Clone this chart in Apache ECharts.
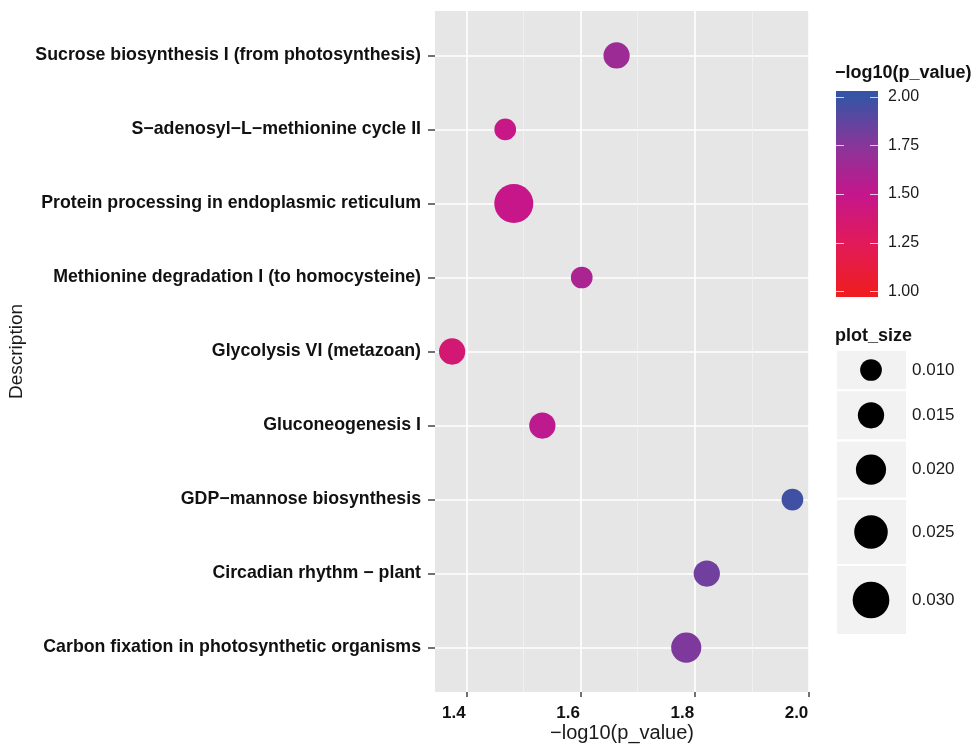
<!DOCTYPE html>
<html>
<head>
<meta charset="utf-8">
<script src="https://cdn.jsdelivr.net/npm/echarts@6/dist/echarts.min.js"></script>
<style>
  html, body { margin: 0; padding: 0; background: #fff; }
  #chart { width: 972px; height: 744px; }
</style>
</head>
<body>
<div id="chart"></div>
<script>
// ---- data ----
const categories = [
  'Sucrose biosynthesis I (from photosynthesis)',
  'S\u2212adenosyl\u2212L\u2212methionine cycle II',
  'Protein processing in endoplasmic reticulum',
  'Methionine degradation I (to homocysteine)',
  'Glycolysis VI (metazoan)',
  'Gluconeogenesis I',
  'GDP\u2212mannose biosynthesis',
  'Circadian rhythm \u2212 plant',
  'Carbon fixation in photosynthetic organisms'
];
const negLog10P = [1.663, 1.468, 1.483, 1.602, 1.375, 1.533, 1.971, 1.821, 1.785];
const plotSize  = [0.015, 0.010, 0.034, 0.010, 0.015, 0.015, 0.010, 0.015, 0.020];
const xTicks = [1.4, 1.6, 1.8, 2.0];
const xMinorTicks = [1.5, 1.7, 1.9];
const colorTicks = [1.00, 1.25, 1.50, 1.75, 2.00];
const sizeTicks = [0.010, 0.015, 0.020, 0.025, 0.030];
const palette = ['#EE1D23', '#E11A5A', '#C4168C', '#88369A', '#3654A5'];

// ---- helpers ----
function sizeOf(v) { return Math.sqrt(471 + (v - 0.010) * 43800); }
const FONT = '"Liberation Sans", Arial, Helvetica, sans-serif';

const seriesData = negLog10P.map((x, i) => [x, i + 1, plotSize[i]]);
const yTickVals = categories.map((c, i) => i + 1);

// colour bar geometry
const cbX = 836, cbW = 42, cbY1 = 291.3, cbY2 = 96.7; // 1.00 -> cbY1, 2.00 -> cbY2
const cbPad = 5.8;
function cbY(v) { return cbY1 - (v - 1) * (cbY1 - cbY2); }
const cbTop = cbY2 - cbPad, cbBot = cbY1 + cbPad, cbH = cbBot - cbTop;
const gradStops = palette.map((c, i) => {
  const v = 1 + i * 0.25;
  return { offset: (cbY(v) - cbTop) / cbH, color: c };
});
gradStops.unshift({ offset: 0, color: palette[palette.length - 1] });
gradStops.push({ offset: 1, color: palette[0] });
gradStops.sort((a, b) => a.offset - b.offset);

const graphics = [];
graphics.push({ type: 'text', left: 835, top: 64, style: { text: '\u2212log10(p_value)', font: 'bold 18px ' + FONT, fill: '#111' } });
graphics.push({ type: 'rect', shape: { x: cbX, y: cbTop, width: cbW, height: cbH },
  style: { fill: { type: 'linear', x: 0, y: 0, x2: 0, y2: 1, colorStops: gradStops } } });
colorTicks.forEach(v => {
  const y = Math.round(cbY(v)) + 0.5;
  graphics.push({ type: 'line', shape: { x1: cbX, y1: y, x2: cbX + 8, y2: y }, style: { stroke: 'rgba(255,255,255,0.75)', lineWidth: 1 } });
  graphics.push({ type: 'line', shape: { x1: cbX + cbW - 8, y1: y, x2: cbX + cbW, y2: y }, style: { stroke: 'rgba(255,255,255,0.75)', lineWidth: 1 } });
  graphics.push({ type: 'text', x: 888, y: cbY(v), style: { text: v.toFixed(2), font: '16px ' + FONT, fill: '#1a1a1a', verticalAlign: 'middle' } });
});

graphics.push({ type: 'text', left: 835, top: 327, style: { text: 'plot_size', font: 'bold 18px ' + FONT, fill: '#111' } });
const boxes = [[350.7, 389.3], [391.3, 439.3], [441.7, 497.5], [500, 564], [566, 634]];
sizeTicks.forEach((v, i) => {
  const b = boxes[i];
  const cy = (b[0] + b[1]) / 2;
  graphics.push({ type: 'rect', shape: { x: 837, y: b[0], width: 69, height: b[1] - b[0] }, style: { fill: '#F2F2F2' } });
  graphics.push({ type: 'circle', shape: { cx: 871, cy: cy, r: sizeOf(v) / 2 }, style: { fill: '#000' } });
  graphics.push({ type: 'text', x: 912, y: cy, style: { text: v.toFixed(3), font: '17px ' + FONT, fill: '#1a1a1a', verticalAlign: 'middle' } });
});

const chart = echarts.init(document.getElementById('chart'), null, { renderer: 'canvas' });
chart.setOption({
  animation: false,
  backgroundColor: '#fff',
  grid: { left: 435, right: 163, top: 11, bottom: 52, show: true, backgroundColor: '#E6E6E6', borderWidth: 0, containLabel: false, outerBoundsMode: 'none' },
  xAxis: [{
    type: 'value', min: 1.345, max: 2.0,
    name: '\u2212log10(p_value)', nameLocation: 'middle', nameGap: 31, nameMoveOverlap: false,
    nameTextStyle: { fontFamily: FONT, fontSize: 20, color: '#1a1a1a' },
    axisLine: { show: false },
    axisTick: { show: true, customValues: xTicks, length: 5, lineStyle: { color: '#444', width: 1.5 } },
    axisLabel: { customValues: xTicks, formatter: v => v.toFixed(1), fontFamily: FONT, fontWeight: 'bold', fontSize: 17, color: '#111', margin: 13, padding: [0, 25, 0, 0] },
    splitLine: { show: true, lineStyle: { color: '#FFFFFF', width: 1.6 } }
  }, {
    type: 'value', min: 1.345, max: 2.0, position: 'top',
    axisLine: { show: false },
    axisTick: { show: false, customValues: xMinorTicks },
    axisLabel: { show: false, customValues: xMinorTicks },
    splitLine: { show: true, lineStyle: { color: '#F2F2F2', width: 0.8 } }
  }],
  yAxis: {
    type: 'value', min: 0.4, max: 9.6, inverse: true,
    name: 'Description', nameLocation: 'middle', nameGap: 409, nameRotate: 90, nameMoveOverlap: false,
    nameTextStyle: { fontFamily: FONT, fontSize: 19, color: '#1a1a1a' },
    axisLine: { show: false },
    axisTick: { show: true, customValues: yTickVals, length: 7, lineStyle: { color: '#444', width: 1.5 } },
    axisLabel: { customValues: yTickVals, formatter: v => categories[Math.round(v) - 1] || '', fontFamily: FONT, fontWeight: 'bold', fontSize: 17.75, color: '#111', margin: 14 },
    splitLine: { show: true, lineStyle: { color: '#FFFFFF', width: 1.6 } }
  },
  visualMap: {
    show: false, type: 'continuous', min: 1, max: 2, dimension: 0, seriesIndex: 0,
    inRange: { color: palette }
  },
  series: [{
    type: 'scatter',
    xAxisIndex: 0,
    data: seriesData,
    symbolSize: d => sizeOf(d[2]),
    itemStyle: { opacity: 1 },
    z: 5
  }],
  graphic: graphics
});
</script>
</body>
</html>
